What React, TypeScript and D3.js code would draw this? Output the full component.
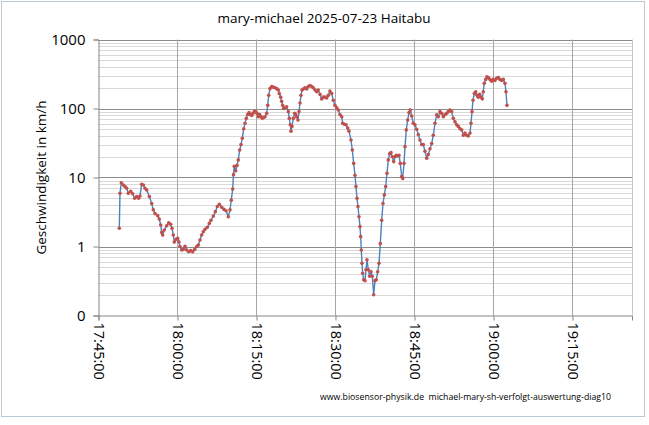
import { useEffect, useRef } from 'react'
import * as d3 from 'd3'

// minutes after 17:45:00
const minutes = [
  3.95, 4.08, 4.33, 4.71, 5.03, 5.35, 5.66, 6.11, 6.49, 6.87, 7.25, 7.63, 7.88, 8.2, 8.51, 8.83, 9.15, 9.65,
  10.1, 10.4, 10.73, 11.24, 11.54, 11.81, 12.0, 12.19, 12.49, 12.95, 13.33, 13.71, 13.96, 14.2, 14.39, 14.71,
  15.04, 15.28, 15.47, 15.8, 16.1, 16.42, 16.75, 17.13, 17.51, 17.89, 18.27, 18.65, 18.95, 19.27, 19.59, 19.9,
  20.22, 20.66, 21.04, 21.36, 21.8, 22.18, 22.56, 22.94, 23.39, 23.83, 24.21, 24.65, 24.97, 25.21, 25.48, 25.63,
  25.78, 26.05, 26.3, 26.54, 26.81, 27.06, 27.3, 27.57, 27.82, 28.06, 28.33, 28.58, 28.82, 29.09, 29.34, 29.58,
  29.85, 30.09, 30.34, 30.61, 30.85, 31.1, 31.37, 31.61, 31.94, 32.13, 32.32, 32.56, 32.89, 33.19, 33.51, 33.84,
  34.14, 34.33, 34.59, 34.78, 34.97, 35.16, 35.41, 35.73, 36.04, 36.23, 36.42, 36.55, 36.74, 36.99, 37.25, 37.44,
  37.63, 37.88, 38.07, 38.26, 38.45, 38.64, 38.88, 39.21, 39.53, 39.83, 40.16, 40.48, 40.78, 41.11, 41.43, 41.73,
  42.06, 42.38, 42.68, 43.01, 43.33, 43.63, 43.95, 44.28, 44.58, 44.9, 45.23, 45.53, 45.85, 46.18, 46.37, 46.67,
  46.99, 47.32, 47.56, 47.94, 48.19, 48.45, 48.7, 48.89, 49.08, 49.27, 49.46, 49.65, 49.78, 49.9, 50.03, 50.16,
  50.35, 50.6, 50.79, 50.98, 51.23, 51.49, 51.74, 51.99, 52.25, 52.5, 52.75, 53.01, 53.26, 53.51, 53.77, 54.02,
  54.27, 54.53, 54.78, 55.02, 55.29, 55.54, 55.78, 56.05, 56.3, 56.54, 56.81, 57.06, 57.3, 57.57, 57.76, 58.01,
  58.2, 58.44, 58.71, 58.96, 59.2, 59.47, 59.77, 60.09, 60.42, 60.72, 61.04, 61.37, 61.67, 61.99, 62.31, 62.62,
  62.94, 63.26, 63.57, 63.89, 64.21, 64.52, 64.84, 65.16, 65.47, 65.79, 66.11, 66.42, 66.74, 67.06, 67.37, 67.69,
  68.01, 68.32, 68.64, 68.96, 69.27, 69.59, 69.91, 70.21, 70.54, 70.73, 70.92, 71.11, 71.36, 71.62, 71.87, 72.11,
  72.38, 72.63, 72.87, 73.06, 73.25, 73.52, 73.76, 74.01, 74.33, 74.66, 74.96, 75.28, 75.61, 75.91, 76.23, 76.56,
  76.86, 77.18, 77.37, 77.56,
]

// speed in km/h
const speeds = [
  1.84, 5.9, 8.4, 7.8, 7.4, 7.0, 5.9, 6.3, 5.8, 5.0, 5.3, 5.0, 5.4, 8.0, 7.8, 7.0, 6.6, 5.3,
  4.2, 3.4, 3.0, 2.8, 2.5, 2.05, 1.6, 1.47, 1.73, 2.0, 2.2, 2.1, 1.84, 1.47, 1.16, 1.27,
  1.31, 1.16, 1.0, 0.89, 0.91, 1.01, 0.89, 0.84, 0.87, 0.84, 0.91, 1.0, 1.05, 1.24, 1.47, 1.64,
  1.78, 1.9, 2.16, 2.4, 2.76, 3.2, 3.8, 4.1, 3.7, 3.45, 3.3, 2.7, 3.4, 4.7, 6.8, 11,
  14.5, 12.5, 15, 18, 25, 30, 37, 51, 61, 72, 82, 87, 82, 79, 85, 90,
  91, 85, 76, 82, 76, 72, 74, 76, 85, 111, 155, 194, 208, 204, 200, 194,
  185, 165, 146, 127, 111, 100, 102, 106, 90, 72, 58, 47, 55, 72, 85, 82,
  76, 68, 90, 120, 155, 185, 192, 200, 192, 208, 215, 208, 200, 185, 175, 185,
  160, 137, 146, 146, 142, 155, 179, 165, 132, 111, 102, 95, 82, 76, 61, 59,
  58, 52, 47, 35, 25, 16, 10.8, 7.4, 5.0, 3.8, 2.7, 1.94, 1.39, 0.89, 0.57, 0.41,
  0.33, 0.32, 0.46, 0.64, 0.46, 0.37, 0.43, 0.37, 0.2, 0.32, 0.33, 0.43, 0.57, 1.1, 2.4, 4.2,
  5.6, 7.4, 11.5, 18, 22, 23, 20, 17, 20, 21, 20.5, 21, 16, 10.3, 9.7, 16,
  28, 49, 68, 87, 95, 78, 61, 58, 50, 42, 35, 30, 30, 24, 19, 21.5,
  26, 31, 41, 61, 81, 76, 90, 85, 76, 81, 85, 90, 95, 90, 72, 64,
  58, 55, 51, 49, 41, 44, 41, 40, 44, 61, 90, 132, 165, 175, 155, 146,
  160, 146, 138, 175, 232, 264, 288, 280, 264, 248, 264, 254, 275, 280, 264, 254,
  264, 232, 175, 111,
]

const xTicks = [0, 15, 30, 45, 60, 75, 90]
const xTickLabels = ['17:45:00', '18:00:00', '18:15:00', '18:30:00', '18:45:00', '19:00:00', '19:15:00']
const yTicks = [0.1, 1, 10, 100, 1000]
const yTickLabels = ['0', '1', '10', '100', '1000']

const title = 'mary-michael 2025-07-23 Haitabu'
const yTitle = 'Geschwindigkeit in km/h'
const footer = 'www.biosensor-physik.de  michael-mary-sh-verfolgt-auswertung-diag10'

export default function App() {
  const svgRef = useRef<SVGSVGElement>(null)

  useEffect(() => {
    if (!svgRef.current) return
    const width = 649
    const height = 425
    const left = 98.5
    const right = 632
    const top = 39.5
    const bottom = 315.5
    const font = '"Open Sans", "DejaVu Sans", sans-serif'

    const svg = d3.select(svgRef.current)
    svg.selectAll('*').remove()
    svg.attr('viewBox', [0, 0, width, height])

    svg.append('rect').attr('width', width).attr('height', height).attr('fill', '#fff')
    svg.append('rect')
      .attr('x', 1.5).attr('y', 1.5).attr('width', 643).attr('height', 415)
      .attr('fill', 'none').attr('stroke', '#BCC8D6')

    const x = d3.scaleLinear().domain([0, 101.3]).range([left, right])
    const y = d3.scaleLog().domain([0.1, 1000]).range([bottom, top])

    // minor horizontal grid
    const minor = y.ticks().filter(v => !yTicks.some(t => Math.abs(t - v) < 1e-9))
    svg.append('g')
      .selectAll('line')
      .data(minor)
      .join('line')
      .attr('x1', left).attr('x2', right)
      .attr('y1', d => Math.round(y(d)) + 0.5).attr('y2', d => Math.round(y(d)) + 0.5)
      .attr('stroke', '#D9D9D9')

    // major horizontal grid
    svg.append('g')
      .selectAll('line')
      .data(yTicks.slice(1))
      .join('line')
      .attr('x1', left).attr('x2', right)
      .attr('y1', d => Math.round(y(d)) + 0.5).attr('y2', d => Math.round(y(d)) + 0.5)
      .attr('stroke', '#8C8C8C')

    // vertical grid
    svg.append('g')
      .selectAll('line')
      .data(xTicks.slice(1))
      .join('line')
      .attr('x1', d => Math.round(x(d)) + 0.5).attr('x2', d => Math.round(x(d)) + 0.5)
      .attr('y1', top).attr('y2', bottom)
      .attr('stroke', '#A6A6A6')

    // plot right border
    svg.append('line')
      .attr('x1', right + 0.5).attr('x2', right + 0.5).attr('y1', top).attr('y2', bottom)
      .attr('stroke', '#BCC8D6')

    // axes
    const yAxis = svg.append('g').attr('transform', `translate(${left},0)`)
      .call(d3.axisLeft(y).tickValues(yTicks).tickSize(5).tickPadding(8)
        .tickFormat((_d, i) => yTickLabels[i]))
    yAxis.select('.domain').attr('stroke', '#868686')
    yAxis.selectAll('.tick line').attr('stroke', '#868686')
    yAxis.selectAll('.tick text')
      .attr('font-family', font).attr('font-size', 15).attr('fill', '#000')

    const xAxis = svg.append('g').attr('transform', `translate(0,${bottom})`)
      .call(d3.axisBottom(x).tickValues(xTicks).tickSize(5)
        .tickFormat((_d, i) => xTickLabels[i]))
    xAxis.select('.domain').attr('stroke', '#868686')
    xAxis.selectAll('.tick line').attr('stroke', '#868686')
    xAxis.selectAll('.tick text')
      .attr('font-family', font).attr('font-size', 14.5).attr('fill', '#000')
      .attr('text-anchor', 'start')
      .attr('transform', 'rotate(90)')
      .attr('x', 7).attr('y', 0).attr('dy', '0.35em')

    // data
    const pts = minutes.map((m, i) => [m, speeds[i]] as [number, number])
    const line = d3.line<[number, number]>().x(d => x(d[0])).y(d => y(d[1]))
    svg.append('path')
      .attr('d', line(pts))
      .attr('fill', 'none').attr('stroke', '#4F81BD').attr('stroke-width', 1.4)
    svg.append('g')
      .selectAll('circle')
      .data(pts)
      .join('circle')
      .attr('cx', d => x(d[0])).attr('cy', d => y(d[1])).attr('r', 1.8)
      .attr('fill', '#C0504D')

    // texts
    svg.append('text')
      .attr('x', 324).attr('y', 23).attr('text-anchor', 'middle')
      .attr('font-family', font).attr('font-size', 13.5).attr('fill', '#000')
      .text(title)

    svg.append('text')
      .attr('transform', `translate(46,${(top + bottom) / 2}) rotate(-90)`)
      .attr('text-anchor', 'middle')
      .attr('font-family', font).attr('font-size', 13.5).attr('fill', '#000')
      .text(yTitle)

    svg.append('text')
      .attr('x', 611).attr('y', 400).attr('text-anchor', 'end')
      .attr('font-family', font).attr('font-size', 8.5).attr('fill', '#000')
      .style('white-space', 'pre')
      .attr('textLength', 291).attr('lengthAdjust', 'spacingAndGlyphs')
      .text(footer)
  }, [])

  return (
    <div style={{ position: 'absolute', left: 0, top: 0 }}>
      <svg ref={svgRef} width={649} height={425} style={{ display: 'block' }} />
    </div>
  )
}
